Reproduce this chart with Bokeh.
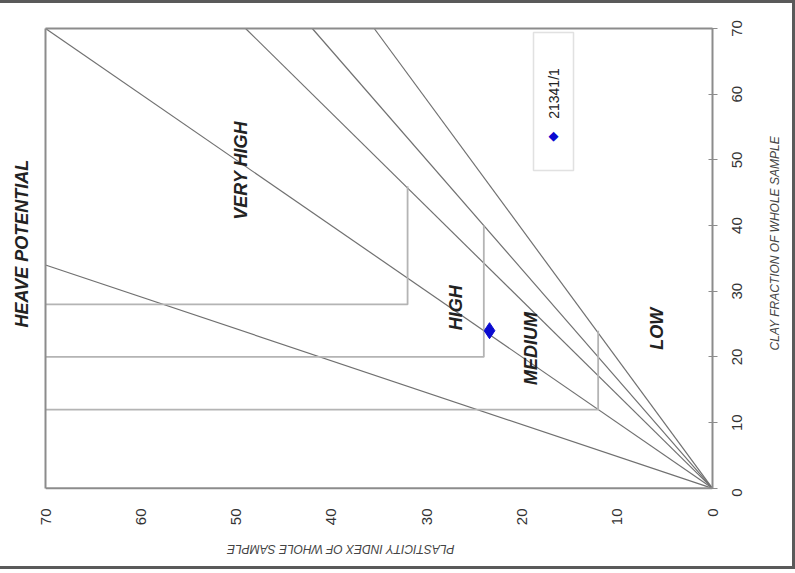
import math
from bokeh.plotting import figure
from bokeh.models import (Range1d, FixedTicker, Label, BoxAnnotation, Title,
                          LinearAxis, Span)
from bokeh.core.properties import value
from bokeh.embed import file_html
from bokeh.resources import INLINE

# ---- data ----
pi_ticks = [0, 10, 20, 30, 40, 50, 60, 70]
clay_ticks = [0, 10, 20, 30, 40, 50, 60, 70]
pi_min, pi_max = 0, 70
clay_min, clay_max = 0, 70

# boundary lines from the origin (plasticity index, clay fraction at end)
line_end_pi = [70, 70, 49, 42, 35.5]
line_end_clay = [34, 70, 70, 70, 70]

# step boundaries
step_pi = [12, 24, 32]
step_clay_low = [12, 20, 28]
step_clay_high = [24, 40, 46]

zone_names = ["VERY HIGH", "HIGH", "MEDIUM", "LOW"]
zone_pi = [49.5, 26.9, 19.1, 5.8]
zone_clay = [48.4, 27.5, 21.3, 24.3]

sample_name = "21341/1"
sample_pi = [23.4]
sample_clay = [24.0]

x_title = "PLASTICITY INDEX OF WHOLE SAMPLE"
y_title = "CLAY FRACTION OF WHOLE SAMPLE"
side_title = "HEAVE POTENTIAL"

# ---- layout constants ----
FONT = "Liberation Sans"
PAD = 2             # extra room below the box (data units)
LABEL_SHIFT = 1.27  # centre rotated right-axis labels on their ticks
FRAME_C = "#8c8c8c"
TXT = "#333333"

p = figure(frame_width=667, frame_height=473,
           x_range=Range1d(pi_max, pi_min),
           y_range=Range1d(clay_min - PAD, clay_max),
           y_axis_location="right", output_backend="svg",
           toolbar_location=None, title=None,
           min_border_left=45, min_border_right=76,
           min_border_top=25, min_border_bottom=65)
p.grid.visible = False
p.outline_line_color = None
p.background_fill_color = "white"
p.border_fill_color = "white"

# diagonals
p.segment(x0=[pi_min] * len(line_end_pi), y0=[clay_min] * len(line_end_pi),
          x1=line_end_pi, y1=line_end_clay,
          line_color="#707070", line_width=1.2)

# steps
xs = [[pi_max, pp, pp] for pp in step_pi]
ys = [[lo, lo, hi] for lo, hi in zip(step_clay_low, step_clay_high)]
p.multi_line(xs, ys, line_color="#b4b4b4", line_width=1.8)

# zone labels
p.text(x=zone_pi, y=zone_clay, text=zone_names, angle=math.pi / 2,
       text_align="center", text_baseline="middle",
       text_font=value(FONT), text_font_style="bold italic",
       text_font_size="18px", text_color="#222222")

# sample
p.scatter(sample_pi, sample_clay, marker="diamond", size=16,
          color="#0a0ad0")

# bottom edge of the box
p.add_layout(Span(location=clay_min, dimension="width",
                  line_color=FRAME_C, line_width=2))


def quiet(ax):
    ax.major_tick_in = 0
    ax.major_tick_out = 0
    ax.minor_tick_in = 0
    ax.minor_tick_out = 0


# bottom axis: tick labels
xa = p.xaxis[0]
xa.ticker = FixedTicker(ticks=pi_ticks)
xa.major_label_orientation = math.pi / 2
quiet(xa)
xa.axis_line_color = None
xa.major_label_standoff = 7
xa.major_label_text_font = FONT
xa.major_label_text_font_size = "15px"
xa.major_label_text_color = TXT

# bottom axis title (upside down)
xt = LinearAxis(ticker=FixedTicker(ticks=[51]),
                major_label_overrides={51: x_title})
quiet(xt)
xt.axis_line_color = None
xt.major_label_orientation = math.pi
xt.major_label_standoff = 20
xt.major_label_text_font = FONT
xt.major_label_text_font_style = "italic"
xt.major_label_text_font_size = "12px"
xt.major_label_text_color = "#444444"
p.add_layout(xt, "below")

# right axis: box edge, ticks (as minor ticks at the true values) and
# labels (on a range shifted so the rotated text is centred on the ticks)
p.extra_y_ranges = {"clab": Range1d(clay_min - PAD + LABEL_SHIFT,
                                    clay_max + LABEL_SHIFT)}
ya = p.yaxis[0]
ya.y_range_name = "clab"
ya.ticker = FixedTicker(ticks=clay_ticks,
                        minor_ticks=[t + LABEL_SHIFT for t in clay_ticks])
ya.bounds = (clay_min + LABEL_SHIFT, clay_max + LABEL_SHIFT)
ya.major_tick_in = 0
ya.major_tick_out = 5
ya.major_tick_line_color = None
ya.minor_tick_in = 4
ya.minor_tick_out = 5
ya.minor_tick_line_color = FRAME_C
ya.minor_tick_line_width = 1
ya.axis_line_color = FRAME_C
ya.axis_line_width = 2
ya.major_label_orientation = math.pi / 2
ya.major_label_standoff = 20
ya.major_label_text_font = FONT
ya.major_label_text_font_size = "15px"
ya.major_label_text_color = TXT

# right axis title
yt = LinearAxis(ticker=FixedTicker(ticks=[21]),
                major_label_overrides={21: y_title})
quiet(yt)
yt.axis_line_color = None
yt.major_label_orientation = math.pi / 2
yt.major_label_standoff = 25
yt.major_label_text_font = FONT
yt.major_label_text_font_style = "italic"
yt.major_label_text_font_size = "12px"
yt.major_label_text_color = "#444444"
p.add_layout(yt, "right")

# left and top box edges
la = LinearAxis(ticker=FixedTicker(ticks=[]), bounds=(clay_min, clay_max))
quiet(la)
la.axis_line_color = FRAME_C
la.axis_line_width = 2
la.major_label_standoff = 0
p.add_layout(la, "left")

ta = LinearAxis(ticker=FixedTicker(ticks=[]))
quiet(ta)
ta.axis_line_color = FRAME_C
ta.axis_line_width = 2
ta.major_label_standoff = 0
p.add_layout(ta, "above")

# left title
p.add_layout(Title(text=side_title, align="left", offset=174,
                   vertical_align="top",
                   text_font=FONT, text_font_style="bold italic",
                   text_font_size="18px", text_color="#222222",
                   standoff=23), "left")

# legend (screen units from the frame's bottom-left)
p.add_layout(BoxAnnotation(left=488, right=528, bottom=331, top=469,
                           left_units="screen", right_units="screen",
                           top_units="screen", bottom_units="screen",
                           fill_color="white", fill_alpha=1,
                           line_color="#9a9a9a", line_width=1.5))
p.add_layout(Label(x=508, y=408, x_units="screen", y_units="screen",
                   text=sample_name, angle=math.pi / 2,
                   text_align="center", text_baseline="middle",
                   text_font=FONT, text_font_size="14px",
                   text_color="#222222"))
p.add_layout(Label(x=508, y=366, x_units="screen", y_units="screen",
                   text="\u25c6", text_align="center", text_baseline="middle",
                   text_font="DejaVu Sans", text_font_size="13px",
                   text_color="#0a0ad0"))

# outer border
p.styles = {"border-top": "3px solid #5a5a5a",
            "border-right": "3px solid #5a5a5a",
            "border-bottom": "3px solid #5a5a5a"}

open("out.html", "w").write(file_html(p, INLINE))
